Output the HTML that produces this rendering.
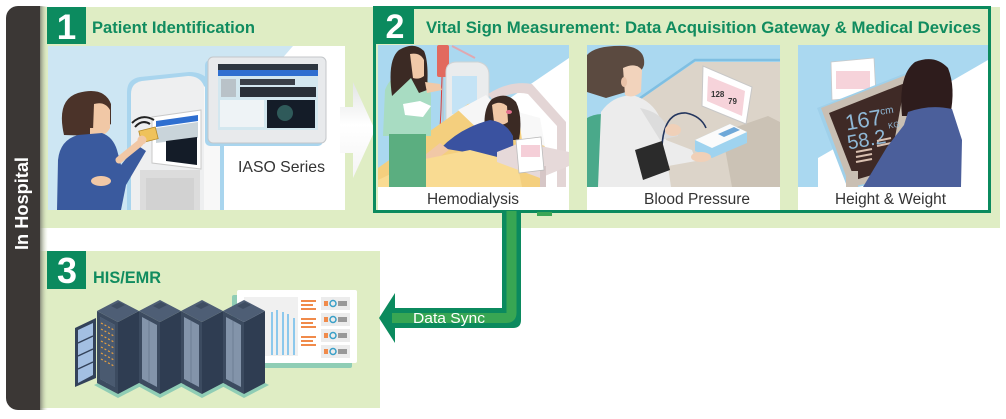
<!DOCTYPE html>
<html><head><meta charset="utf-8">
<style>
html,body{margin:0;padding:0;background:#fff;width:1006px;height:419px;overflow:hidden;}
svg{display:block;}
text{font-family:"Liberation Sans",Arial,sans-serif;}
</style></head>
<body>
<svg width="1006" height="419" viewBox="0 0 1006 419" xmlns="http://www.w3.org/2000/svg">
<defs>
  <linearGradient id="sh" x1="0" x2="1" y1="0" y2="0">
    <stop offset="0" stop-color="#7f8275" stop-opacity="0.9"/>
    <stop offset="1" stop-color="#dfedc4" stop-opacity="0"/>
  </linearGradient>
  <linearGradient id="warr" x1="0" x2="0" y1="0" y2="1">
    <stop offset="0" stop-color="#e2e4e4"/>
    <stop offset="0.45" stop-color="#ffffff"/>
    <stop offset="1" stop-color="#f4f4f4"/>
  </linearGradient>
  <clipPath id="c1"><rect x="48" y="46" width="297" height="164"/></clipPath>
  <clipPath id="p1"><rect x="378" y="45" width="191" height="142"/></clipPath>
  <clipPath id="p2"><rect x="587" y="45" width="193" height="142"/></clipPath>
  <clipPath id="p3"><rect x="798" y="45" width="190" height="142"/></clipPath>
  <g id="rack">
    <polygon points="-3,385 21,398 46,385 22,373" fill="#8fcdb5"/>
    <polygon points="0,311 21,322 21,394 0,383" fill="#3c4b60"/>
    <polygon points="3,317 18,325 18,387 3,379" fill="#8394aa"/>
    <line x1="10" y1="321" x2="10" y2="383" stroke="#6d7e94" stroke-width="1"/>
    <polygon points="21,322 42,311 42,383 21,394" fill="#2f3d52"/>
    <polygon points="0,311 21,300 42,311 21,322" fill="#4e5e75"/>
    <polygon points="14,306 22,302 28,305 20,309" fill="#3e4d62"/>
  </g>
</defs>

<rect width="1006" height="419" fill="#fff"/>

<!-- bands -->
<rect x="40" y="7" width="960" height="221" fill="#dfedc4"/>
<rect x="40" y="251" width="340" height="157" fill="#dfedc4"/>

<!-- sidebar -->
<path d="M40,6 V410 H18 A12,12 0 0 1 6,398 V18 A12,12 0 0 1 18,6 Z" fill="#3b3735"/>
<rect x="40" y="6" width="8" height="404" fill="url(#sh)"/>
<text transform="translate(28,250) rotate(-90)" font-size="18" font-weight="bold" fill="#ffffff" textLength="93" lengthAdjust="spacingAndGlyphs">In Hospital</text>

<!-- ============ SECTION 1 ============ -->
<rect x="47" y="7" width="39" height="37" fill="#0c8b5f"/>
<text x="66.5" y="39" font-size="35" font-weight="bold" fill="#fff" text-anchor="middle">1</text>
<text x="92" y="33" font-size="16.5" font-weight="bold" fill="#118c5f" textLength="163" lengthAdjust="spacingAndGlyphs">Patient Identification</text>

<rect x="48" y="46" width="297" height="164" fill="#fff"/>
<g clip-path="url(#c1)">
  <polygon points="48,46 293,46 150,210 48,210" fill="#cde6f3"/>
  <!-- kiosk -->
  <path d="M127,210 V92 Q127,79 140,77 L189,72 Q204,72 210,82 L224,100 V210 Z" fill="#a9d5ee"/>
  <path d="M131,210 V94 Q131,83 142,81 L188,76 Q200,76 204,86 L204,210 Z" fill="#eeeff0"/>
  <path d="M204,86 L220,103 V210 H204 Z" fill="#f8f8f8"/>
  <rect x="140" y="170" width="60" height="40" fill="#dcdcdc"/>
  <rect x="146" y="178" width="48" height="32" fill="#d2d2d2"/>
  <polygon points="152,117 201,110 201,169 152,163" fill="#fff" stroke="#c9c9c9" stroke-width="1"/>
  <polygon points="156,121 198,115 198,121 156,127" fill="#2f6fd0"/>
  <polygon points="156,128 198,122 198,138 156,143" fill="#c9d4da"/>
  <polygon points="166,141 197,137 197,165 166,161" fill="#141c28"/>
  <!-- woman -->
  <path d="M64,135 Q56,100 78,93 Q104,86 111,104 L111,124 Q102,130 96,136 Z" fill="#4b3329"/>
  <path d="M94,104 Q105,101 110,110 L110,128 Q106,136 97,135 L93,131 Z" fill="#f1c8a6"/>
  <rect x="90" y="128" width="10" height="10" fill="#f1c8a6"/>
  <path d="M57,210 L58,160 Q60,140 78,135 L102,133 Q113,137 117,150 L121,165 L137,145 L146,151 L126,185 L121,210 Z" fill="#3a5a9e"/>
  <line x1="119" y1="160" x2="140" y2="143" stroke="#f1c8a6" stroke-width="7" stroke-linecap="round"/>
  <ellipse cx="101" cy="181" rx="10" ry="5" fill="#f1c8a6"/>
  <rect x="140" y="129" width="17" height="12" fill="#efc25b" stroke="#b58a2a" stroke-width="0.8" transform="rotate(-14 148 135)"/>
  <circle cx="142" cy="140" r="4.5" fill="#f1c8a6"/>
  <path d="M135,127 Q142,119 150,124" stroke="#222" stroke-width="2" fill="none"/>
  <path d="M132,123 Q142,113 154,120" stroke="#222" stroke-width="2" fill="none"/>
  <!-- IASO monitor -->
  <rect x="205" y="60" width="118" height="86" rx="5" fill="#a9d5ee"/>
  <rect x="208" y="57" width="118" height="86" rx="5" fill="#e8eaec" stroke="#c4c7ca" stroke-width="1"/>
  <rect x="218" y="64" width="100" height="66" fill="#d3e7ef"/>
  <rect x="218" y="64" width="100" height="6" fill="#2d3640"/>
  <rect x="218" y="70" width="100" height="6" fill="#2f6fd0"/>
  <rect x="221" y="79" width="15" height="18" fill="#b9c2c8"/>
  <rect x="240" y="79" width="55" height="6" fill="#3a4048"/>
  <rect x="240" y="87" width="76" height="10" fill="#2a3038"/>
  <rect x="220" y="100" width="44" height="27" fill="#eef3f6"/>
  <rect x="267" y="100" width="48" height="28" fill="#141c28"/>
  <circle cx="285" cy="113" r="8" fill="#2f5a5a"/>
</g>
<text x="238" y="172" font-size="16" fill="#333" textLength="87" lengthAdjust="spacingAndGlyphs">IASO Series</text>

<!-- white arrow -->
<polygon points="340,107 353,107 353,82 375,130 353,178 353,153 340,153" fill="url(#warr)"/>

<!-- ============ SECTION 2 ============ -->
<rect x="374.5" y="7.5" width="615" height="204" fill="none" stroke="#0b8a5e" stroke-width="3"/>
<rect x="375" y="6" width="39" height="38" fill="#0b8a5e"/>
<text x="395" y="38" font-size="34" font-weight="bold" fill="#fff" text-anchor="middle">2</text>
<text x="426" y="33" font-size="16.5" font-weight="bold" fill="#118c5f" textLength="555" lengthAdjust="spacingAndGlyphs">Vital Sign Measurement: Data Acquisition Gateway &amp; Medical Devices</text>

<!-- panel backgrounds / captions -->
<rect x="378" y="45" width="191" height="165" fill="#fff"/>
<rect x="587" y="45" width="193" height="165" fill="#fff"/>
<rect x="798" y="45" width="190" height="165" fill="#fff"/>

<!-- Panel 1: Hemodialysis -->
<g clip-path="url(#p1)">
  <rect x="378" y="45" width="191" height="142" fill="#aad8f0"/>
  <polygon points="569,58 569,187 500,187 500,105" fill="#fff"/>
  <!-- IV -->
  <line x1="443" y1="45" x2="443" y2="154" stroke="#b8c4cc" stroke-width="1.5"/>
  <line x1="452" y1="46" x2="475" y2="58" stroke="#e0a8b0" stroke-width="2"/>
  <rect x="437" y="45" width="12" height="32" rx="2" fill="#e26a5e"/>
  <path d="M442,77 L441,110 L439,147" stroke="#d93a3a" stroke-width="1" fill="none"/>
  <!-- machine -->
  <path d="M446,144 V72 Q446,62 457,62 L478,62 Q489,64 489,75 V144 Z" fill="#eaeced" stroke="#cfd3d5" stroke-width="1"/>
  <rect x="452" y="76" width="25" height="38" fill="#c4e3f5"/>
  <rect x="452" y="118" width="14" height="14" fill="#f7f7f7" stroke="#ccc" stroke-width="0.6"/>
  <!-- headboard -->
  <path d="M488,94 Q510,80 532,84 L566,122 L566,187 L557,187 L557,126 L528,94 Q512,90 494,102 Z" fill="#e3d5d5"/>
  <!-- mattress -->
  <polygon points="378,168 468,104 500,98 548,150 540,187 378,187" fill="#f4cf7e"/>
  <polygon points="458,110 486,95 505,114 483,134" fill="#f6f6f6"/>
  <polygon points="518,112 540,118 545,146 522,140" fill="#f8f8f8"/>
  <!-- patient -->
  <path d="M486,140 Q481,110 492,99 Q506,91 516,102 Q523,116 519,140 Z" fill="#3b2a24"/>
  <path d="M492,105 Q500,100 507,106 L508,122 Q502,127 494,122 Z" fill="#f1c8a6"/>
  <ellipse cx="509" cy="112" rx="3" ry="2" fill="#e26e8c"/>
  <path d="M441,148 Q460,128 490,120 Q506,122 513,136 L514,168 L485,166 L465,152 Z" fill="#3a52a0"/>
  <path d="M411,166 L440,143 L449,150 L419,172 Z" fill="#f1c8a6"/>
  <polygon points="378,187 378,180 420,160 470,150 517,162 522,187" fill="#f9db92"/>
  <!-- table + monitor -->
  <polygon points="497,152 522,142 569,152 569,166 540,178 497,162" fill="#e6d9d9"/>
  <rect x="540" y="166" width="6" height="21" fill="#d6c6c6"/>
  <polygon points="516,140 541,137 544,170 519,173" fill="#fff" stroke="#bbb" stroke-width="0.8"/>
  <rect x="521" y="145" width="19" height="12" fill="#f5cfd8"/>
  <!-- nurse -->
  <path d="M383,136 L385,90 Q390,76 405,72 L420,72 Q429,76 431,95 L431,136 Z" fill="#a8dcc2"/>
  <rect x="389" y="134" width="37" height="53" fill="#5bae80"/>
  <path d="M392,96 Q387,60 399,50 Q414,41 424,51 Q429,62 427,90 L419,93 L411,78 Z" fill="#3b2a24"/>
  <path d="M410,54 Q420,52 424,60 L424,76 Q419,80 413,78 Z" fill="#f0c9a8"/>
  <path d="M425,82 L440,84 L442,90 L427,93 Z" fill="#f0c9a8"/>
  <path d="M403,104 L420,101 L431,106 L423,117 L405,115 Z" fill="#fff"/>
</g>
<text x="427" y="204" font-size="15.5" fill="#333" textLength="92" lengthAdjust="spacingAndGlyphs">Hemodialysis</text>

<!-- Panel 2: Blood Pressure -->
<g clip-path="url(#p2)">
  <rect x="587" y="45" width="193" height="142" fill="#aad8f0"/>
  <polygon points="625,110 695,62 780,62 780,187 660,187" fill="#dcd4c9"/>
  <polygon points="722,132 768,116 780,122 780,187 732,187" fill="#cbc2b5"/>
  <polyline points="623,110 695,60 780,60" stroke="#7fbfe2" stroke-width="2.5" fill="none"/>
  <!-- tablet -->
  <polygon points="703,66 752,87 746,124 702,106" fill="#fff" stroke="#c8c8c8" stroke-width="1"/>
  <polygon points="708,76 745,91 742,116 707,101" fill="#f6d3da"/>
  <text x="711" y="97" font-size="8" font-weight="bold" fill="#333">128</text>
  <text x="728" y="104" font-size="8" font-weight="bold" fill="#333">79</text>
  <!-- chair -->
  <path d="M587,118 Q606,108 619,124 L626,187 L587,187 Z" fill="#4aa98a"/>
  <path d="M612,120 Q620,128 623,150 L627,187 L620,187 Q617,140 608,122 Z" fill="#7cc4a6"/>
  <!-- coat -->
  <path d="M598,187 L601,112 Q612,96 632,95 Q652,100 660,118 L666,140 L692,150 L696,161 L668,166 L671,187 Z" fill="#ececec"/>
  <path d="M640,108 Q660,112 666,125 L676,126 L678,136 L660,140 Z" fill="#dcdcdc"/>
  <!-- hair / face -->
  <path d="M587,92 L587,55 Q596,45 625,46 Q646,48 644,65 Q641,75 631,72 L626,92 L606,98 Z" fill="#5b4a40"/>
  <path d="M623,68 Q636,62 642,70 L641,92 Q633,99 625,95 Z" fill="#f2d3bc"/>
  <ellipse cx="624" cy="82" rx="3" ry="5" fill="#e9c2a8"/>
  <!-- tube -->
  <path d="M662,146 Q664,112 686,113 Q701,116 706,128" stroke="#24365e" stroke-width="1.6" fill="none"/>
  <!-- hands -->
  <ellipse cx="673" cy="130" rx="8" ry="6" fill="#f0d0b8"/>
  <!-- BP device -->
  <polygon points="695,140 730,124 747,132 747,143 712,158 695,151" fill="#9fd3ef"/>
  <polygon points="695,140 730,124 747,132 712,148" fill="#fbfbfb"/>
  <polygon points="718,134 734,127 740,130 724,137" fill="#6fa8d8"/>
  <ellipse cx="701" cy="157" rx="10" ry="5" fill="#f0d0b8"/>
  <!-- cuff -->
  <polygon points="635,150 662,141 670,170 643,180" fill="#2b2b2b"/>
</g>
<text x="644" y="204" font-size="15.5" fill="#333" textLength="106" lengthAdjust="spacingAndGlyphs">Blood Pressure</text>

<!-- Panel 3: Height & Weight -->
<g clip-path="url(#p3)">
  <rect x="798" y="45" width="190" height="142" fill="#aad8f0"/>
  <polygon points="988,60 988,187 818,187 818,158" fill="#fff"/>
  <!-- tablet -->
  <rect x="827" y="64" width="45" height="38" fill="#9fd0ea" transform="skewY(-6)"/>
  <polygon points="831,62 874,58 876,96 832,100" fill="#fff" stroke="#c8c8c8" stroke-width="0.8"/>
  <rect x="836" y="71" width="34" height="18" fill="#f6d3da"/>
  <!-- display -->
  <polygon points="817,108 906,73 920,80 893,180 848,189" fill="#9fd0ea"/>
  <polygon points="821,108 906,75 918,82 893,178 850,187" fill="#c9bfb3"/>
  <polygon points="829,113 905,83 889,170 855,180" fill="#3f2a26"/>
  <rect x="846" y="171" width="12" height="16" fill="#c9bfb3"/>
  <text x="845" y="128" font-size="22" fill="#8fb8d6" transform="rotate(-10 860 120)">167</text>
  <text x="880" y="114" font-size="10" fill="#8fb8d6" transform="rotate(-10 885 110)">cm</text>
  <text x="847" y="147" font-size="20" fill="#8fb8d6" transform="rotate(-10 862 140)">58.2</text>
  <text x="888" y="128" font-size="8" fill="#8fb8d6" transform="rotate(-10 892 125)">KG</text>
  <g stroke="#d9c0b0" stroke-width="2">
    <line x1="856" y1="152" x2="872" y2="149"/>
    <line x1="856" y1="157" x2="872" y2="154"/>
    <line x1="856" y1="162" x2="872" y2="159"/>
    <line x1="877" y1="141" x2="891" y2="138"/>
    <line x1="877" y1="146" x2="891" y2="143"/>
  </g>
  <!-- woman -->
  <path d="M902,116 Q898,75 915,62 Q935,54 948,68 Q956,88 950,116 Z" fill="#2e1c1c"/>
  <path d="M908,112 Q930,104 952,109 L962,140 L961,187 L863,187 L887,147 L904,125 Z" fill="#4b5f9b"/>
</g>
<text x="835" y="204" font-size="15.5" fill="#333" textLength="111" lengthAdjust="spacingAndGlyphs">Height &amp; Weight</text>

<!-- small green bits under section 2 -->
<rect x="537" y="212" width="15" height="4" fill="#3aa655"/>

<!-- ============ DATA SYNC ARROW ============ -->
<path d="M502,211 H521 V320 Q521,328 513,328 H395 V343 L379,318 L395,293 V308 H502 Z" fill="#0b8a5e"/>
<path d="M511.5,211 V313 Q511.5,318 506.5,318 H392" stroke="#38a653" stroke-width="10" fill="none"/>
<text x="413" y="323" font-size="15" fill="#fff" textLength="72" lengthAdjust="spacingAndGlyphs">Data Sync</text>

<!-- ============ SECTION 3 ============ -->
<rect x="47" y="251" width="39" height="38" fill="#0b8a5e"/>
<text x="67" y="283" font-size="36" font-weight="bold" fill="#fff" text-anchor="middle">3</text>
<text x="93" y="283" font-size="16.5" font-weight="bold" fill="#118c5f" textLength="68" lengthAdjust="spacingAndGlyphs">HIS/EMR</text>

<!-- dashboard -->
<rect x="232" y="295" width="120" height="73" rx="2" fill="#8fcdb5"/>
<rect x="237" y="290" width="120" height="73" rx="2" fill="#fff"/>
<rect x="244" y="297" width="54" height="59" fill="#f0f0f0"/>
<g stroke="#8cc8ec" stroke-width="2">
  <line x1="272" y1="312" x2="272" y2="355"/>
  <line x1="277" y1="310" x2="277" y2="355"/>
  <line x1="283" y1="312" x2="283" y2="355"/>
  <line x1="288" y1="314" x2="288" y2="355"/>
  <line x1="294" y1="318" x2="294" y2="355"/>
</g>
<g fill="#f08a4a">
  <rect x="301" y="300" width="15" height="2"/><rect x="301" y="304" width="12" height="2"/><rect x="301" y="308" width="15" height="2"/>
  <rect x="301" y="318" width="15" height="2"/><rect x="301" y="322" width="12" height="2"/><rect x="301" y="326" width="15" height="2"/>
  <rect x="301" y="336" width="15" height="2"/><rect x="301" y="340" width="12" height="2"/><rect x="301" y="344" width="15" height="2"/>
</g>
<g>
  <rect x="321" y="297" width="29" height="13" fill="#ececec"/>
  <rect x="321" y="313" width="29" height="13" fill="#ececec"/>
  <rect x="321" y="329" width="29" height="13" fill="#ececec"/>
  <rect x="321" y="345" width="29" height="13" fill="#ececec"/>
  <g fill="none" stroke="#3aa0c8" stroke-width="1.5">
    <circle cx="333" cy="303.5" r="3"/><circle cx="333" cy="319.5" r="3"/><circle cx="333" cy="335.5" r="3"/><circle cx="333" cy="351.5" r="3"/>
  </g>
  <g fill="#f08a4a">
    <rect x="324" y="301" width="4" height="5"/><rect x="324" y="317" width="4" height="5"/><rect x="324" y="333" width="4" height="5"/><rect x="324" y="349" width="4" height="5"/>
  </g>
  <g fill="#999">
    <rect x="338" y="301" width="9" height="5"/><rect x="338" y="317" width="9" height="5"/><rect x="338" y="333" width="9" height="5"/><rect x="338" y="349" width="9" height="5"/>
  </g>
</g>

<!-- racks -->
<use href="#rack" x="223"/>
<use href="#rack" x="181"/>
<use href="#rack" x="139"/>
<use href="#rack" x="97"/>
<!-- rack 1 front with LEDs -->
<polygon points="3,317 18,325 18,387 3,379" transform="translate(97,0)" fill="#4a5a70"/>
<g stroke="#e8a040" stroke-width="1.2" stroke-dasharray="2 2">
  <line x1="101" y1="323" x2="114" y2="330"/>
  <line x1="101" y1="329" x2="114" y2="336"/>
  <line x1="101" y1="335" x2="114" y2="342"/>
  <line x1="101" y1="341" x2="114" y2="348"/>
  <line x1="101" y1="347" x2="114" y2="354"/>
  <line x1="101" y1="353" x2="114" y2="360"/>
  <line x1="101" y1="359" x2="114" y2="366"/>
</g>
<!-- open door -->
<polygon points="75,328 96,318 96,378 75,387" fill="#33425a"/>
<polygon points="78,330 93,323 93,375 78,383" fill="#a3bfe2"/>
<g stroke="#33425a" stroke-width="1.5">
  <line x1="78" y1="343" x2="93" y2="336"/>
  <line x1="78" y1="356" x2="93" y2="349"/>
  <line x1="78" y1="369" x2="93" y2="362"/>
</g>
</svg>
</body></html>
